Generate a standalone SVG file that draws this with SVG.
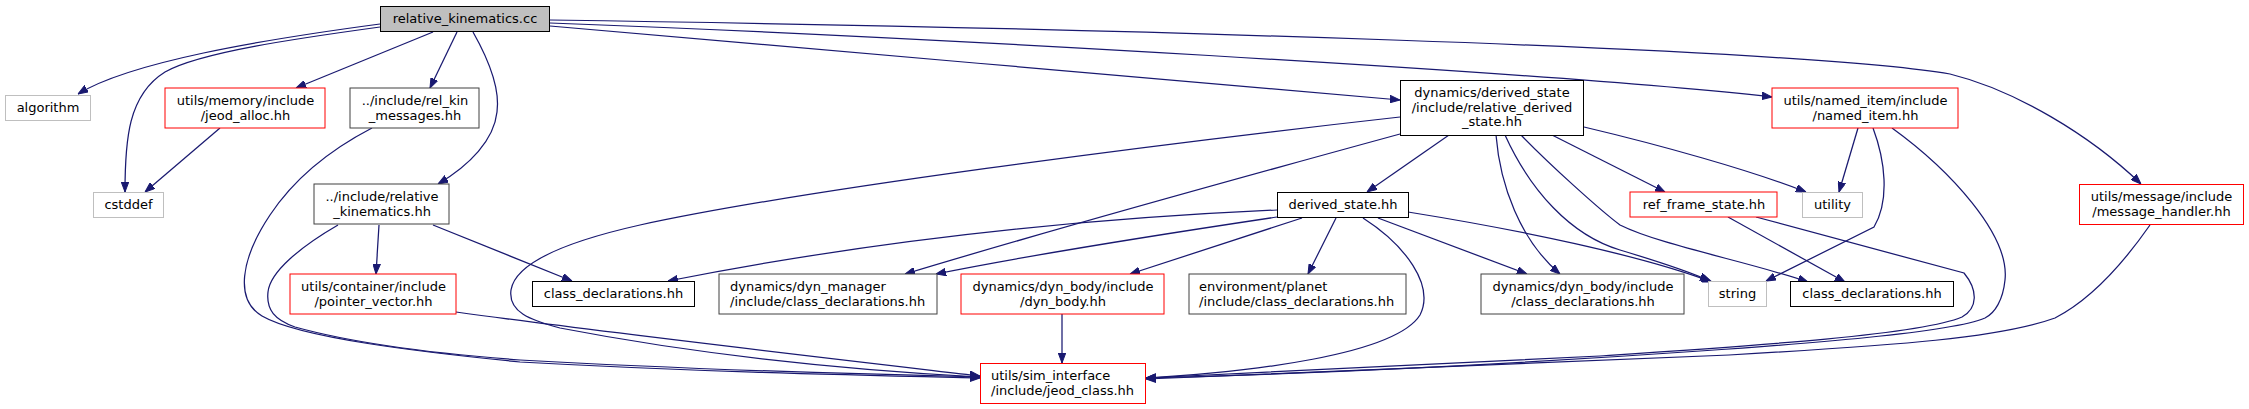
<svg xmlns="http://www.w3.org/2000/svg" width="2249" height="409" viewBox="0 0 2249 409">
<style>
text{font-family:"DejaVu Sans","Liberation Sans",sans-serif;font-size:13px;fill:#000}
.c{text-anchor:middle}
.l{text-anchor:start}
rect{fill:#fff;stroke-width:1}
.k{stroke:#000}
.d{stroke:#404040}
.g{stroke:#bfbfbf}
.r{stroke:#ff0000}
.root{fill:#bfbfbf;stroke:#000}
#edges path{fill:none;stroke:#191970;stroke-width:1.25;marker-end:url(#ah)}
</style>
<defs>
<marker id="ah" markerUnits="userSpaceOnUse" markerWidth="10" markerHeight="8" refX="10" refY="3.75" orient="auto" viewBox="0 0 10 7.5">
<path d="M0,0 L10,3.75 L0,7.5 z" fill="#191970" stroke="#191970" stroke-width="1"/>
</marker>
</defs>
<rect x="0" y="0" width="2249" height="409" fill="#fff" stroke="none"/>
<g id="edges">
<path d="M380,24 C260,40 130,62 78,94"/>
<path d="M380,27 C300,38 200,52 165,72 C128,95 125,140 125,192"/>
<path d="M433,32 L296,88"/>
<path d="M457,32 L430,88"/>
<path d="M473,32 C490,62 500,90 497,112 C494,140 470,165 438,184"/>
<path d="M550,26 C800,48 1150,78 1400,100"/>
<path d="M550,23 C900,36 1550,72 1772,97"/>
<path d="M550,20 C1100,28 1800,48 1950,74 C2015,90 2090,135 2141,184"/>
<path d="M220,128 L145,192"/>
<path d="M372,128 C320,155 290,185 270,215 C240,260 235,300 262,316 C300,338 420,352 520,362 C700,372 850,375 980,378"/>
<path d="M338,225 C300,247 270,272 268,292 C266,310 275,320 295,327 C360,345 440,354 520,360 C700,370 850,374 980,377"/>
<path d="M379,225 L376,274"/>
<path d="M433,225 L572,281"/>
<path d="M456,312 C600,332 800,355 980,376"/>
<path d="M1400,117 C1150,145 800,190 640,225 C560,243 515,265 511,290 C508,312 530,320 560,328 C700,355 850,370 980,377"/>
<path d="M1400,134 C1250,175 1050,230 905,274"/>
<path d="M1277,210 C1050,220 850,245 668,281"/>
<path d="M1277,217 C1150,236 1030,255 936,274"/>
<path d="M1302,218 L1130,274"/>
<path d="M1336,218 L1308,274"/>
<path d="M1363,218 C1405,245 1435,285 1420,315 C1395,355 1250,372 1146,378"/>
<path d="M1378,218 L1527,274"/>
<path d="M1408,212 C1520,230 1640,255 1712,282"/>
<path d="M1449,135 L1367,192"/>
<path d="M1496,135 C1500,185 1520,240 1560,274"/>
<path d="M1505,135 C1530,190 1570,235 1620,250 C1660,262 1690,272 1710,281"/>
<path d="M1521,135 C1550,165 1600,210 1620,225 C1660,245 1750,262 1808,282"/>
<path d="M1552,135 L1665,192"/>
<path d="M1584,127 C1660,145 1750,170 1806,192"/>
<path d="M1728,217 L1845,282"/>
<path d="M1756,217 L1964,273 C1978,290 1978,308 1962,317 C1920,335 1750,346 1600,356 C1400,367 1250,374 1146,378"/>
<path d="M1858,128 L1839,192"/>
<path d="M1873,128 C1885,160 1890,200 1874,227 L1766,281"/>
<path d="M1892,128 C1950,170 2010,235 2005,280 C2003,300 1995,313 1985,318 C1950,333 1800,344 1700,351 C1500,365 1300,374 1146,378"/>
<path d="M2150,225 C2120,268 2090,300 2055,318 C2000,338 1900,345 1729,355 C1500,366 1300,374 1146,379"/>
<path d="M1062,314 L1062,363"/>
</g>
<g id="n_root"><rect class="root" x="380.5" y="6.5" width="169" height="25"/><text class="c" x="465" y="22.5">relative_kinematics.cc</text></g>
<g id="n_algorithm"><rect class="g" x="5.5" y="95.5" width="85" height="25"/><text class="c" x="48" y="111.5">algorithm</text></g>
<g id="n_jeod_alloc"><rect class="r" x="165" y="88" width="160" height="40"/><text class="c" x="245.5" y="104.5">utils/memory/include</text><text class="c" x="245.5" y="119.5">/jeod_alloc.hh</text></g>
<g id="n_rel_kin_messages"><rect class="d" x="350" y="88" width="129" height="40"/><text class="c" x="415" y="104.5">../include/rel_kin</text><text class="c" x="415" y="119.5">_messages.hh</text></g>
<g id="n_cstddef"><rect class="g" x="93.5" y="192.5" width="70" height="25"/><text class="c" x="128.5" y="208.5">cstddef</text></g>
<g id="n_relative_kinematics_hh"><rect class="d" x="314" y="184" width="135" height="40"/><text class="c" x="382" y="200.5">../include/relative</text><text class="c" x="382" y="215.5">_kinematics.hh</text></g>
<g id="n_pointer_vector"><rect class="r" x="290" y="274" width="166" height="40"/><text class="c" x="373.5" y="290.5">utils/container/include</text><text class="c" x="373.5" y="305.5">/pointer_vector.hh</text></g>
<g id="n_class_decl_left"><rect class="k" x="532.5" y="281.5" width="162" height="25"/><text class="c" x="613.5" y="297.5">class_declarations.hh</text></g>
<g id="n_dyn_manager"><rect class="d" x="719" y="274" width="218" height="40"/><text class="l" x="730" y="290.5">dynamics/dyn_manager</text><text class="l" x="730" y="305.5">/include/class_declarations.hh</text></g>
<g id="n_dyn_body"><rect class="r" x="961" y="274" width="203" height="40"/><text class="c" x="1063" y="290.5">dynamics/dyn_body/include</text><text class="c" x="1063" y="305.5">/dyn_body.hh</text></g>
<g id="n_jeod_class"><rect class="r" x="980.5" y="363.5" width="165" height="40"/><text class="l" x="991" y="379.5">utils/sim_interface</text><text class="l" x="991" y="394.5">/include/jeod_class.hh</text></g>
<g id="n_planet"><rect class="d" x="1189" y="274" width="217" height="40"/><text class="l" x="1199" y="290.5">environment/planet</text><text class="l" x="1199" y="305.5">/include/class_declarations.hh</text></g>
<g id="n_dyn_body_cd"><rect class="d" x="1481" y="274" width="203" height="40"/><text class="c" x="1583" y="290.5">dynamics/dyn_body/include</text><text class="c" x="1583" y="305.5">/class_declarations.hh</text></g>
<g id="n_string"><rect class="g" x="1708.5" y="281.5" width="58" height="25"/><text class="c" x="1737.5" y="297.5">string</text></g>
<g id="n_class_decl_right"><rect class="k" x="1790.5" y="281.5" width="163" height="25"/><text class="c" x="1872" y="297.5">class_declarations.hh</text></g>
<g id="n_relative_derived_state"><rect class="k" x="1400.5" y="80.5" width="183" height="55"/><text class="c" x="1492" y="97">dynamics/derived_state</text><text class="c" x="1492" y="111.5">/include/relative_derived</text><text class="c" x="1492" y="126">_state.hh</text></g>
<g id="n_derived_state"><rect class="k" x="1277.5" y="192.5" width="131" height="25"/><text class="c" x="1343" y="208.5">derived_state.hh</text></g>
<g id="n_ref_frame_state"><rect class="r" x="1630" y="192" width="147" height="25"/><text class="c" x="1704" y="208.5">ref_frame_state.hh</text></g>
<g id="n_utility"><rect class="g" x="1802.5" y="192.5" width="60" height="25"/><text class="c" x="1832.5" y="208.5">utility</text></g>
<g id="n_named_item"><rect class="r" x="1772" y="88" width="186" height="40"/><text class="c" x="1865.5" y="104.5">utils/named_item/include</text><text class="c" x="1865.5" y="119.5">/named_item.hh</text></g>
<g id="n_message_handler"><rect class="r" x="2079.5" y="184.5" width="164" height="40"/><text class="c" x="2161.5" y="200.5">utils/message/include</text><text class="c" x="2161.5" y="215.5">/message_handler.hh</text></g>
</svg>
